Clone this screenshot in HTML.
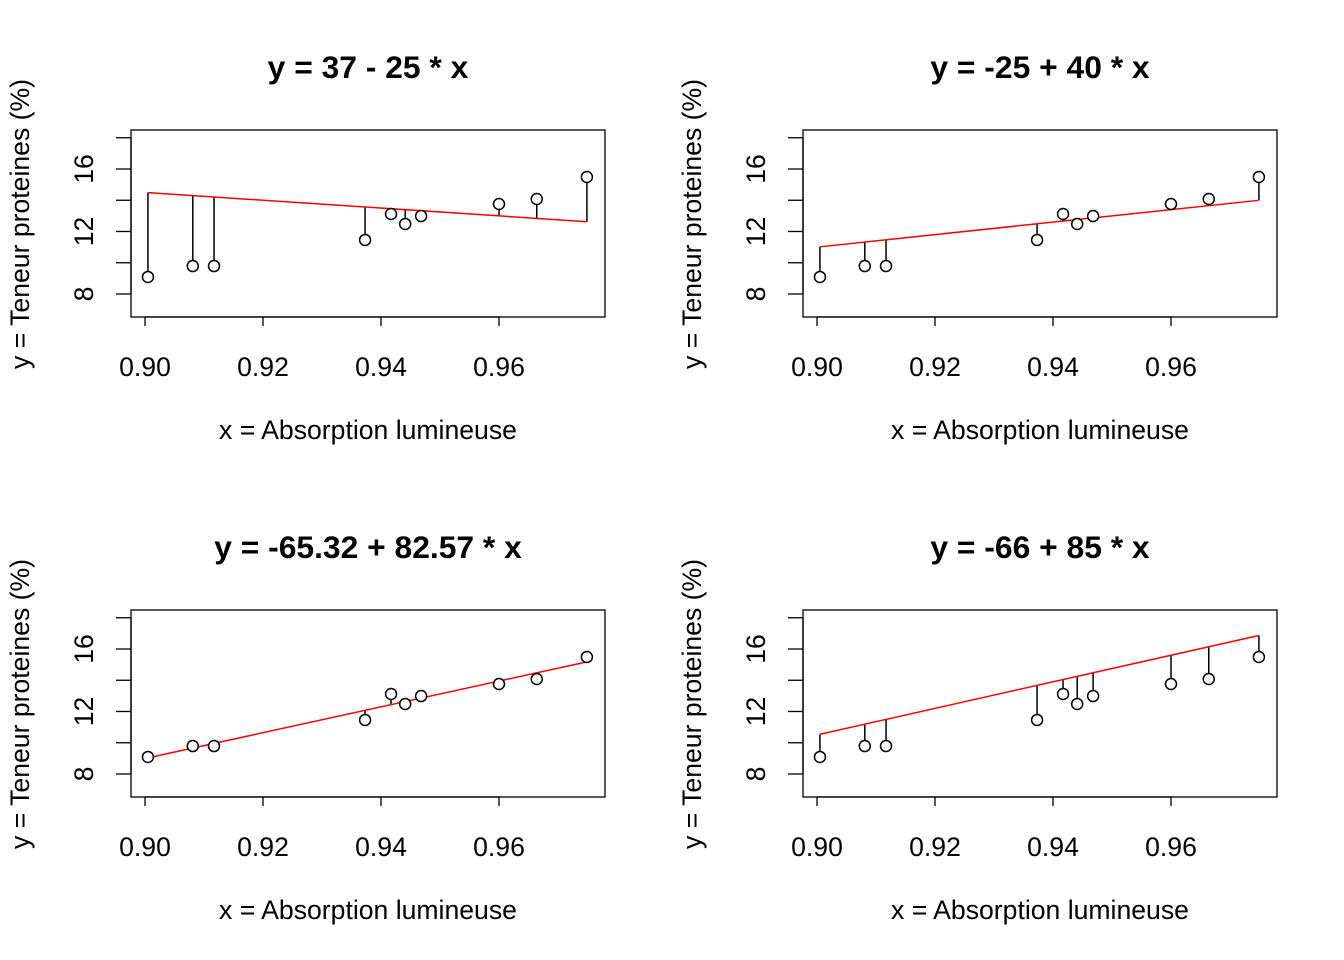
<!DOCTYPE html>
<html><head><meta charset="utf-8"><style>
html,body{margin:0;padding:0;background:#fff;}
svg{display:block;font-family:"Liberation Sans",Arial,sans-serif;}
</style></head><body>
<svg id="c" width="1344" height="960" viewBox="0 0 1344 960"></svg>
<script>
const xVals=[0.9005,0.9081,0.9117,0.9373,0.9417,0.9441,0.9468,0.9600,0.9664,0.9749];
const yVals=[9.09,9.79,9.79,11.46,13.12,12.48,12.99,13.76,14.08,15.49];
const intercepts=[37,-25,-65.32,-66];
const slopes=[-25,40,82.57,85];
const titles=["y = 37 - 25 * x","y = -25 + 40 * x","y = -65.32 + 82.57 * x","y = -66 + 85 * x"];
const xTicks=[0.90,0.92,0.94,0.96];
const yTicks=[8,10,12,14,16,18];
const yLabels=[8,12,16];
const NS="http://www.w3.org/2000/svg";
const svg=document.getElementById('c');
function mk(t,a,p){const e=document.createElementNS(NS,t);for(const k in a)e.setAttribute(k,a[k]);(p||svg).appendChild(e);return e;}
for(let i=0;i<4;i++){
  const ox=(i%2)*672, oy=Math.floor(i/2)*480;
  const g=mk('g',{});
  
  
  const X=v=>ox+145+(v-0.90)*5900;
  const Y=v=>oy+294-(v-8)*15.625;
  const t=mk('text',{x:ox+368,y:oy+78,'text-anchor':'middle','font-size':31.8,'font-weight':'bold'},g);t.textContent=titles[i];
  
  const box=mk('rect',{x:ox+131,y:oy+130,width:474,height:187,fill:'none',stroke:'#000','stroke-width':1.3},g);
  
  mk('line',{x1:X(0.90),x2:X(0.96),y1:oy+317,y2:oy+317,stroke:'#000','stroke-width':1.3},g);
  xTicks.forEach(v=>{mk('line',{x1:X(v),x2:X(v),y1:oy+317,y2:oy+326,stroke:'#000','stroke-width':1.3},g);
    const l=mk('text',{x:X(v),y:oy+376,'text-anchor':'middle','font-size':26.6},g);l.textContent=v.toFixed(2);
    });
  mk('line',{x1:ox+131,x2:ox+131,y1:Y(8),y2:Y(18),stroke:'#000','stroke-width':1.3},g);
  yTicks.forEach(v=>{mk('line',{x1:ox+116,x2:ox+131,y1:Y(v),y2:Y(v),stroke:'#000','stroke-width':1.3},g);});
  yLabels.forEach(v=>{const l=mk('text',{x:0,y:0,'text-anchor':'middle','font-size':26.6,transform:`translate(${ox+93},${Y(v)}) rotate(-90)`},g);l.textContent=v;
    });
  const xt=mk('text',{x:ox+368,y:oy+439,'text-anchor':'middle','font-size':26.6},g);xt.textContent='x = Absorption lumineuse';
  
  const yt=mk('text',{x:0,y:0,'text-anchor':'middle','font-size':26.6,transform:`translate(${ox+29},${oy+224}) rotate(-90)`},g);yt.textContent='y = Teneur proteines (%)';
  
  const a=intercepts[i],b=slopes[i];
  const xmin=Math.min(...xVals),xmax=Math.max(...xVals);
  xVals.forEach((x,j)=>{const r=mk('line',{x1:X(x),x2:X(x),y1:Y(yVals[j]),y2:Y(a+b*x),stroke:'#000','stroke-width':1.5},g);
    });
  const fl=mk('line',{x1:X(xmin),x2:X(xmax),y1:Y(a+b*xmin),y2:Y(a+b*xmax),stroke:'#f00','stroke-width':1.5},g);
  
  xVals.forEach((x,j)=>{const c=mk('circle',{cx:X(x),cy:Y(yVals[j]),r:5.5,fill:'#fff',stroke:'#000','stroke-width':1.5},g);
    });
}
</script>
</body></html>
